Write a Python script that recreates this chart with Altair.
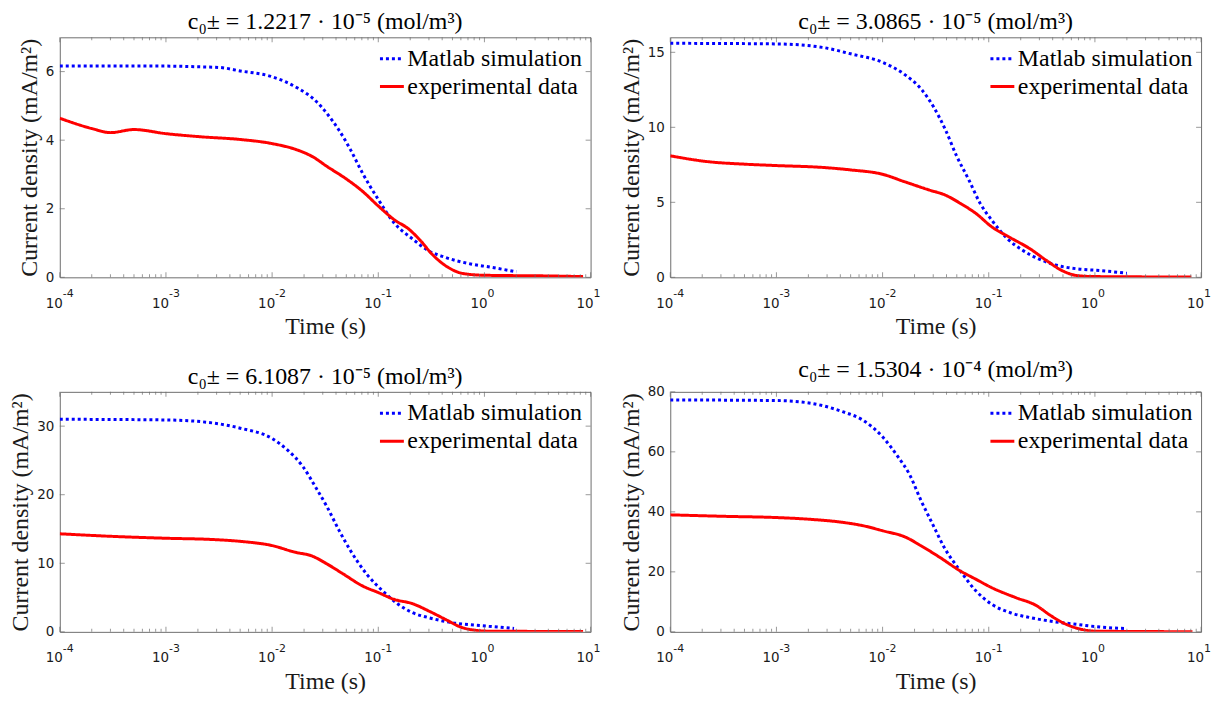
import altair as alt
import pandas as pd

SERIES = ["Matlab simulation", "experimental data"]

TITLES = [
    "c₀± = 1.2217 · 10⁻⁵ (mol/m³)",
    "c₀± = 3.0865 · 10⁻⁵ (mol/m³)",
    "c₀± = 6.1087 · 10⁻⁵ (mol/m³)",
    "c₀± = 1.5304 · 10⁻⁴ (mol/m³)",
]
Y_MAX = [7, 16, 35, 80]
Y_TICKS = [[0, 2, 4, 6], [0, 5, 10, 15], [0, 10, 20, 30], [0, 20, 40, 60, 80]]
X_MAJOR = [1e-4, 1e-3, 1e-2, 1e-1, 1e0, 1e1]
X_EXPONENTS = ["-4", "-3", "-2", "-1", "0", "1"]
X_MINOR = [k * d for d in [1e-4, 1e-3, 1e-2, 1e-1, 1e0] for k in range(2, 10)]

# Panel 1
sim_t_1 = [1e-4, 1e-3, 2e-3, 3.2e-3, 5e-3, 1e-2, 1.74e-2, 2.63e-2, 3.3e-2, 4.27e-2, 5.5e-2, 7.1e-2, 0.1, 0.14, 0.21, 0.295, 0.42, 0.74, 1.12, 2.0]
sim_j_1 = [6.16, 6.16, 6.14, 6.12, 6.02, 5.85, 5.52, 5.12, 4.77, 4.29, 3.71, 3.04, 2.27, 1.6, 1.12, 0.78, 0.59, 0.39, 0.30, 0.16]
exp_t_1 = [1e-4, 2e-4, 3e-4, 5e-4, 1e-3, 2.1e-3, 5e-3, 1e-2, 1.74e-2, 2.4e-2, 3.3e-2, 5.1e-2, 7.1e-2, 0.1, 0.14, 0.195, 0.25, 0.32, 0.45, 0.63, 1.0, 4.0, 8.5]
exp_j_1 = [4.64, 4.34, 4.22, 4.31, 4.19, 4.10, 4.02, 3.90, 3.71, 3.52, 3.23, 2.85, 2.51, 2.08, 1.69, 1.40, 1.07, 0.68, 0.30, 0.11, 0.06, 0.04, 0.02]

# Panel 2
sim_t_2 = [1e-4, 1e-3, 2.7e-3, 5e-3, 1e-2, 1.6e-2, 2.34e-2, 3e-2, 3.9e-2, 5e-2, 6.5e-2, 8.3e-2, 0.107, 0.15, 0.21, 0.295, 0.45, 0.69, 1.12, 2.0]
sim_j_2 = [15.6, 15.56, 15.33, 14.9, 14.33, 13.54, 12.5, 11.4, 9.85, 8.06, 6.49, 4.93, 3.8, 2.57, 1.79, 1.23, 0.78, 0.56, 0.45, 0.27]
exp_t_2 = [1e-4, 2.2e-4, 5.1e-4, 1e-3, 2.8e-3, 5e-3, 1e-2, 1.6e-2, 2.75e-2, 3.9e-2, 5.4e-2, 7.6e-2, 0.107, 0.16, 0.245, 0.35, 0.49, 0.69, 1.0, 8.1]
exp_j_2 = [8.1, 7.72, 7.54, 7.45, 7.32, 7.16, 6.87, 6.38, 5.82, 5.48, 4.93, 4.25, 3.36, 2.64, 1.9, 1.12, 0.45, 0.11, 0.05, 0.02]

# Panel 3
sim_t_3 = [1e-4, 1e-3, 2.8e-3, 5e-3, 1e-2, 1.4e-2, 1.95e-2, 2.57e-2, 3.3e-2, 4.27e-2, 5.5e-2, 7.8e-2, 0.11, 0.155, 0.21, 0.30, 0.5, 1.1, 1.9]
sim_j_3 = [31.0, 30.9, 30.45, 29.7, 28.2, 26.5, 24.1, 21.1, 18.2, 14.8, 11.8, 8.4, 5.97, 4.0, 2.8, 2.06, 1.32, 0.83, 0.49]
exp_t_3 = [1e-4, 3.4e-4, 1e-3, 2.8e-3, 5e-3, 1e-2, 1.66e-2, 2.34e-2, 3.3e-2, 4.7e-2, 7.1e-2, 0.1, 0.14, 0.21, 0.30, 0.43, 0.6, 0.85, 1.1, 8.5]
exp_j_3 = [14.3, 13.9, 13.65, 13.46, 13.2, 12.58, 11.6, 11.1, 9.89, 8.42, 6.7, 5.73, 4.75, 4.11, 3.03, 1.81, 0.69, 0.2, 0.1, 0.05]

# Panel 4
sim_t_4 = [1e-4, 1e-3, 2.1e-3, 4.2e-3, 6.5e-3, 1e-2, 1.4e-2, 1.78e-2, 2.3e-2, 2.95e-2, 3.8e-2, 5.4e-2, 7.6e-2, 0.107, 0.16, 0.25, 0.42, 0.69, 1.15, 1.95]
sim_j_4 = [77.3, 77.1, 76.2, 73.4, 70.6, 65.0, 58.3, 52.7, 43.8, 36.0, 28.2, 20.3, 13.6, 9.16, 6.37, 4.7, 3.35, 2.46, 1.56, 1.12]
exp_t_4 = [1e-4, 3.3e-4, 1e-3, 2.1e-3, 4.2e-3, 6.5e-3, 1e-2, 1.66e-2, 2.3e-2, 3.47e-2, 5.4e-2, 7.6e-2, 0.107, 0.18, 0.275, 0.39, 0.54, 0.76, 1.0, 8.3]
exp_j_4 = [39.0, 38.5, 38.1, 37.5, 36.5, 35.4, 33.7, 31.5, 28.7, 24.8, 20.3, 17.5, 14.7, 11.4, 8.94, 5.25, 2.46, 0.78, 0.22, 0.05]

SIM = [(sim_t_1, sim_j_1), (sim_t_2, sim_j_2), (sim_t_3, sim_j_3), (sim_t_4, sim_j_4)]
EXP = [(exp_t_1, exp_j_1), (exp_t_2, exp_j_2), (exp_t_3, exp_j_3), (exp_t_4, exp_j_4)]

W, H = 533, 241
FRAME = "#6e6e6e"
TXT = "#1a1a1a"
SERIF = "Liberation Serif"
SANS = "DejaVu Sans"
LABEL_PAD = 19


def make_legend():
    return alt.Legend(title=None, orient="top-right", offset=8, padding=0,
                      rowPadding=2, symbolType="stroke", symbolSize=576,
                      symbolStrokeWidth=3, labelFont=SERIF, labelFontSize=24,
                      labelColor="#000000", labelOffset=2, labelLimit=400)


def panel(i):
    st, sj = SIM[i]
    et, ej = EXP[i]
    df = pd.concat([
        pd.DataFrame({"t": st, "j": sj, "series": SERIES[0]}),
        pd.DataFrame({"t": et, "j": ej, "series": SERIES[1]}),
    ])
    xscale = alt.Scale(type="log", domain=[1e-4, 10], nice=False)
    yscale = alt.Scale(domain=[0, Y_MAX[i]], nice=False, zero=True)

    lines = alt.Chart(df).mark_line(interpolate="monotone", strokeWidth=3, strokeCap="butt", clip=True).encode(
        x=alt.X("t:Q", scale=xscale, axis=alt.Axis(
            values=X_MAJOR, labelExpr="'10'", ticks=False, domain=False, grid=False,
            title="Time (s)", labelFont=SANS, labelFontSize=13.5, labelColor=TXT,
            labelPadding=LABEL_PAD, labelOffset=-6, labelFlush=False, titleFont=SERIF,
            titleFontSize=24, titleFontWeight="normal", titleColor=TXT, titlePadding=5)),
        y=alt.Y("j:Q", scale=yscale, axis=alt.Axis(
            values=Y_TICKS[i], ticks=False, domain=False, grid=False,
            title="Current density (mA/m²)", labelFont=SANS, labelFontSize=13.5, labelColor=TXT,
            labelPadding=6, titleFont=SERIF, titleFontSize=24, titleFontWeight="normal",
            titleColor=TXT, titlePadding=4)),
        color=alt.Color("series:N", scale=alt.Scale(domain=SERIES, range=["#0000ff", "#ff0000"]),
                        legend=make_legend()),
        strokeDash=alt.StrokeDash("series:N", scale=alt.Scale(domain=SERIES, range=[[3, 3], [1, 0]]),
                                  legend=make_legend()),
    )

    xmaj = pd.DataFrame({"t": X_MAJOR, "e": X_EXPONENTS})
    xmin = pd.DataFrame({"t": X_MINOR})
    yt = pd.DataFrame({"j": Y_TICKS[i]})

    exps = alt.Chart(xmaj).mark_text(align="left", baseline="alphabetic", dx=3, font=SANS,
                                     fontSize=11, color=TXT).encode(
        x=alt.X("t:Q", scale=xscale), y=alt.value(H + LABEL_PAD + 1), text="e:N")

    def xticks(data, size, top):
        yv = size / 2 if top else H - size / 2
        return alt.Chart(data).mark_tick(orient="vertical", size=size, thickness=1, color=FRAME).encode(
            x=alt.X("t:Q", scale=xscale), y=alt.value(yv))

    def yticks(right):
        xv = W - 2.5 if right else 2.5
        return alt.Chart(yt).mark_tick(orient="horizontal", size=5, thickness=1, color=FRAME).encode(
            y=alt.Y("j:Q", scale=yscale), x=alt.value(xv))

    return alt.layer(
        lines,
        xticks(xmaj, 5, False), xticks(xmaj, 5, True),
        xticks(xmin, 3, False), xticks(xmin, 3, True),
        yticks(False), yticks(True), exps,
    ).properties(width=W, height=H, title=TITLES[i])


chart = alt.concat(panel(0), panel(1), panel(2), panel(3), columns=2,
                   spacing={"row": 18, "column": 17}).resolve_scale(
    color="independent", strokeDash="independent"
).resolve_legend(color="independent", strokeDash="independent").properties(
    padding={"left": 0, "top": 0, "right": 5, "bottom": 5}, background="white"
).configure_view(stroke=FRAME, strokeWidth=1).configure_title(
    font=SERIF, fontSize=24, fontWeight="normal", color="#000000", offset=3
)

chart.save("out.html", embed_options={"renderer": "svg", "actions": False})
